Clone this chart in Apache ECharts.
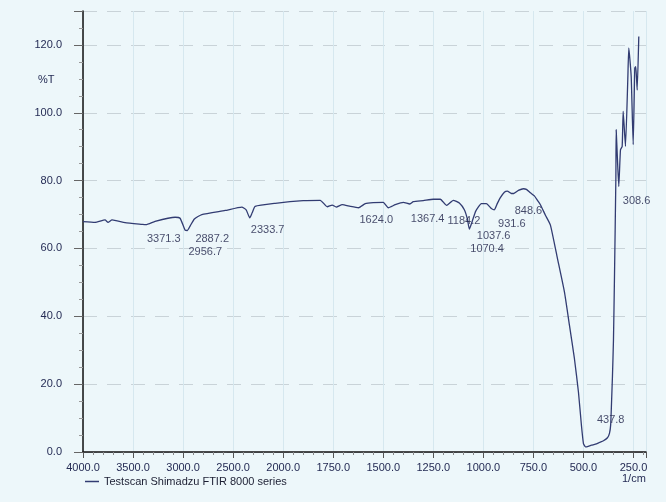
<!DOCTYPE html>
<html>
<head>
<meta charset="utf-8">
<script src="https://cdn.jsdelivr.net/npm/echarts@6.0.0/dist/echarts.min.js"></script>
<style>
  html, body { margin: 0; padding: 0; background: #edf7fa; }
  #chart { width: 666px; height: 502px; }
</style>
</head>
<body>
<div id="chart"></div>
<script>
// spectrum, wavenumber (1/cm) and %T
let wavenumbers = [4000, 3880, 3780, 3750, 3710, 3580, 3410, 3371, 3280, 3080, 3030, 2980, 2957, 2930, 2887,
  2813, 2580, 2413, 2370, 2334, 2310, 2280, 2080, 1900, 1815, 1780, 1755, 1735, 1705, 1665, 1624, 1590,
  1550, 1500, 1475, 1440, 1400, 1367, 1350, 1300, 1250, 1215, 1184, 1150, 1120, 1095, 1080, 1070, 1055,
  1038, 1010, 985, 960, 945, 930, 915, 895, 880, 860, 848, 825, 800, 785, 765, 745, 730, 715, 690, 665,
  630, 595, 570, 545, 525, 510, 500, 490, 480, 460, 440, 420, 400, 380, 370, 364, 360, 355, 350, 345,
  338, 336.5, 330, 323.5, 315, 306.5, 301.5, 290, 278.5, 273.5, 261.5, 251.5, 243.5, 238.5, 231.5, 223.5];
let transmittance = [67.9, 67.7, 68.4, 67.7, 68.4, 67.6, 67.1, 67.0, 68.0, 69.2, 68.9, 65.4, 65.3, 66.6, 68.7,
  70.0, 71.2, 72.2, 71.4, 69.0, 70.5, 72.4, 73.3, 74.1, 74.2, 72.3, 72.8, 72.2, 72.9, 72.4, 72.0, 73.2,
  73.5, 73.6, 72.0, 72.9, 73.6, 73.1, 73.8, 74.1, 74.5, 74.5, 72.7, 74.2, 73.4, 71.4, 68.7, 65.7, 68.1,
  71.0, 73.2, 73.2, 71.8, 71.4, 73.3, 75.0, 76.6, 76.9, 76.2, 76.2, 77.1, 77.6, 77.4, 76.4, 75.5, 74.2, 72.9, 69.8, 66.9,
  57.1, 47.2, 37.4, 27.5, 17.7, 7.8, 2.5, 1.5, 1.6, 2.0, 2.3, 2.8, 3.3, 4.2, 5.5, 8, 14, 22.5, 33, 51.5,
  81, 95.0, 86, 78.3, 89.1, 90.1, 100.4, 90.1, 109.7, 119.1, 110.7, 90.6, 113.2, 113.6, 106.7, 122.5];

// peak annotations: wavenumber and the %T level where the text sits
let peaks = [3371.3, 2956.7, 2887.2, 2333.7, 1624.0, 1367.4, 1184.2, 1070.4, 1037.6, 931.6, 848.6, 437.8, 308.6];
let peakTextT = [62.8, 59.0, 62.8, 65.4, 68.4, 68.7, 68.0, 59.8, 63.7, 67.1, 71.1, 9.4, 74.1];

let xTicks = [4000, 3500, 3000, 2500, 2000, 1750, 1500, 1250, 1000, 750, 500, 250];
let seriesName = "Testscan Shimadzu FTIR 8000 series";

// the paper scale is halved above 2000 1/cm: 500 per division there, 250 below
function toPos(w) {
  return w >= 2000 ? (4000 - w) / 500 : 4 + (2000 - w) / 250;
}

let spectrum = wavenumbers.map((w, i) => [toPos(w), transmittance[i]]);
let peakData = peaks.map((w, i) => ({ name: w.toFixed(1), value: [toPos(w), peakTextT[i]] }));

let textColor = "#252c55";
let chart = echarts.init(document.getElementById("chart"));

let option = {
  backgroundColor: "#edf7fa",
  animation: false,
  grid: { left: 83, right: 20, top: 11, bottom: 50 },
  legend: {
    data: [seriesName],
    left: 80,
    top: 471,
    icon: "rect",
    itemWidth: 14,
    itemHeight: 1.5,
    itemGap: 6,
    textStyle: { color: "#1c1f33", fontSize: 11, fontFamily: "Liberation Sans" }
  },
  xAxis: {
    type: "value",
    min: 0,
    max: 11.25,
    interval: 1,
    axisLine: { onZero: false, lineStyle: { color: "#111", width: 1.5 } },
    axisTick: { length: 6, lineStyle: { color: "#555" } },
    minorTick: { show: true, splitNumber: 5, length: 3, lineStyle: { color: "#888" } },
    splitLine: { show: true, lineStyle: { color: "#d6e8ef", width: 1 } },
    axisLabel: {
      margin: 10,
      color: textColor,
      fontSize: 11,
      fontFamily: "Liberation Sans",
      formatter: function(v) {
        return Number.isInteger(v) && xTicks[v] !== undefined ? xTicks[v].toFixed(1) : "";
      }
    }
  },
  yAxis: {
    type: "value",
    min: 0,
    max: 130,
    interval: 20,
    axisLine: { show: true, lineStyle: { color: "#111", width: 1.5 } },
    axisTick: { show: true, length: 9, lineStyle: { color: "#666" } },
    minorTick: { show: true, splitNumber: 4, length: 4, lineStyle: { color: "#999" } },
    splitLine: { show: true, lineStyle: { color: "#c9d3d8", type: [14, 10], width: 1 } },
    axisLabel: {
      margin: 21,
      color: textColor,
      fontSize: 11,
      fontFamily: "Liberation Sans",
      formatter: function(v) {
        return v % 20 === 0 ? v.toFixed(1) : "";
      }
    }
  },
  graphic: [
    { type: "text", left: 38, top: 74, style: { text: "%T", fill: textColor, font: "11px Liberation Sans" } },
    { type: "text", left: 622, top: 473, style: { text: "1/cm", fill: textColor, font: "11px Liberation Sans" } }
  ],
  series: [
    {
      name: seriesName,
      type: "line",
      data: spectrum,
      showSymbol: false,
      smooth: 0.15,
      lineStyle: { color: "#323c72", width: 1.3 },
      itemStyle: { color: "#323c72" },
      z: 3
    },
    {
      name: "peaks",
      type: "scatter",
      data: peakData,
      symbolSize: 2,
      itemStyle: { color: "rgba(0,0,0,0)" },
      silent: true,
      label: {
        show: true,
        position: "right",
        distance: 0,
        offset: [-3, 0],
        formatter: "{b}",
        color: "#1a1e45",
        fontSize: 11,
        fontFamily: "Liberation Sans"
      },
      labelLayout: { hideOverlap: false },
      z: 4
    }
  ]
};

chart.setOption(option);
</script>
</body>
</html>
